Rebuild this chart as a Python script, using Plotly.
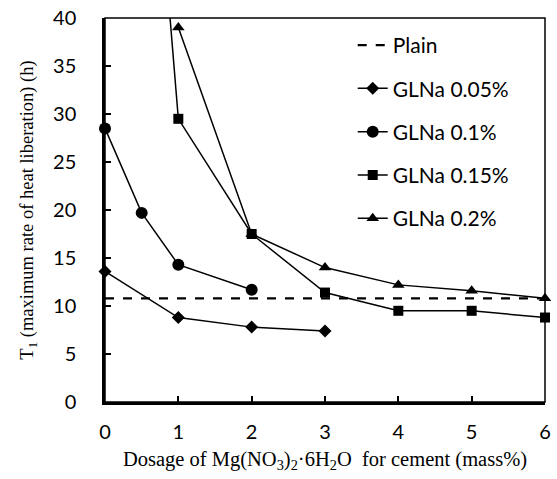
import plotly.graph_objects as go

plain_x = [0, 6]
plain_y = [10.8, 10.8]

x_005 = [0, 1, 2, 3]
y_005 = [13.6, 8.8, 7.8, 7.4]

x_01 = [0, 0.5, 1, 2]
y_01 = [28.5, 19.7, 14.3, 11.7]

x_015 = [0.5, 1, 2, 3, 4, 5, 6]
y_015 = [76, 29.5, 17.5, 11.4, 9.5, 9.5, 8.8]

x_02 = [1, 2, 3, 4, 5, 6]
y_02 = [39, 17.5, 14.0, 12.2, 11.6, 10.8]

fig = go.Figure()
fig.add_trace(go.Scatter(x=plain_x, y=plain_y, mode="lines", name="Plain",
                         line=dict(color="black", width=2.2, dash="dash"), legendgroup="a"))
series = [
    ("GLNa 0.05%", x_005, y_005, "diamond", 10),
    ("GLNa 0.1%", x_01, y_01, "circle", 12),
    ("GLNa 0.15%", x_015, y_015, "square", 10),
    ("GLNa 0.2%", x_02, y_02, "triangle-up", 11),
]
for i, (name, xs, ys, sym, sz) in enumerate(series):
    fig.add_trace(go.Scatter(x=xs, y=ys, mode="lines+markers", name=name,
                             line=dict(color="black", width=1.5),
                             marker=dict(symbol=sym, size=sz, color="black"),
                             cliponaxis=False, legendgroup=str(i)))

fig.add_shape(type="rect", xref="paper", yref="paper", x0=0, y0=0, x1=1, y1=1,
              line=dict(color="black", width=1.5), layer="above")

tickfont = dict(family="Lato, Open Sans, sans-serif", size=20, color="black")
fig.update_layout(
    width=557, height=479,
    margin=dict(l=105, r=12, t=18, b=77, autoexpand=False),
    plot_bgcolor="white", paper_bgcolor="white",
    showlegend=True,
    legend=dict(x=0.563, y=0.982, xanchor="left", yanchor="top",
                font=dict(family="Lato, Open Sans, sans-serif", size=21, color="black"),
                tracegroupgap=13, bgcolor="rgba(0,0,0,0)"),
    xaxis=dict(range=[0, 6], tickvals=[0, 1, 2, 3, 4, 5, 6], ticks="inside", ticklen=6,
               tickcolor="black", tickwidth=1.5, showgrid=False, zeroline=False,
               showline=True, linecolor="black", linewidth=2.5, automargin=False,
               tickfont=tickfont, ticklabelstandoff=10,
               title=dict(text="Dosage of Mg(NO<sub>3</sub>)<sub>2</sub>·6H<sub>2</sub>O  for cement (mass%)",
                          font=dict(family="Liberation Serif, Times New Roman, serif", size=20.5, color="black"),
                          standoff=10)),
    yaxis=dict(range=[0, 40], tickvals=[0, 5, 10, 15, 20, 25, 30, 35, 40], ticks="inside", ticklen=6,
               tickcolor="black", tickwidth=1.5, showgrid=False, zeroline=False,
               showline=True, linecolor="black", linewidth=2.5, automargin=False,
               tickfont=tickfont, ticklabelstandoff=22,
               title=dict(text="T<sub>1</sub> (maximum rate of heat liberation) (h)",
                          font=dict(family="Liberation Serif, Times New Roman, serif", size=18.5, color="black"),
                          standoff=15)),
)

fig.write_html("out.html")
